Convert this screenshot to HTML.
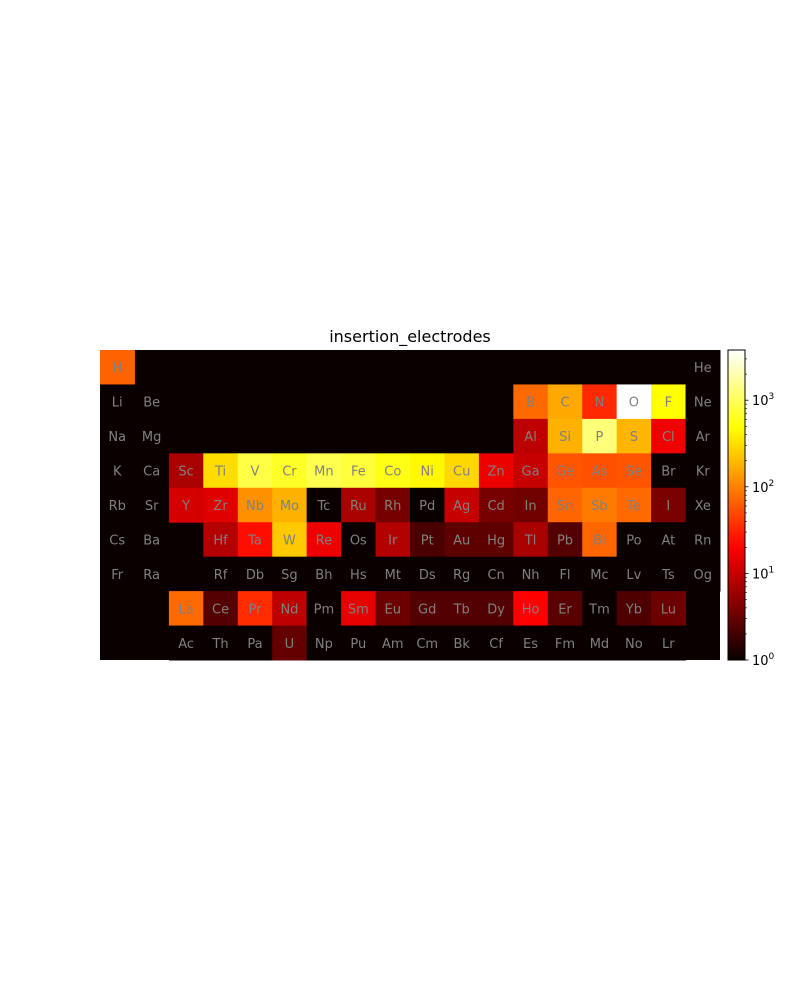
<!DOCTYPE html>
<html><head><meta charset="utf-8"><style>
html,body{margin:0;padding:0;background:#fff;}
svg{display:block;font-family:"DejaVu Sans","Liberation Sans",sans-serif;}
</style></head><body>
<svg id="chart" width="800" height="1000" viewBox="0 0 800 1000" xmlns="http://www.w3.org/2000/svg">
<defs><linearGradient id="hotgrad" x1="0" y1="1" x2="0" y2="0"></linearGradient></defs>
<text x="410" y="342" text-anchor="middle" font-size="16" fill="#000">insertion_electrodes</text>
<g id="cells"></g>
<g id="cbar"></g>
</svg>
<script>
const symbols = ["H","He","Li","Be","B","C","N","O","F","Ne","Na","Mg","Al","Si","P","S","Cl","Ar","K","Ca","Sc","Ti","V","Cr","Mn","Fe","Co","Ni","Cu","Zn","Ga","Ge","As","Se","Br","Kr","Rb","Sr","Y","Zr","Nb","Mo","Tc","Ru","Rh","Pd","Ag","Cd","In","Sn","Sb","Te","I","Xe","Cs","Ba","Hf","Ta","W","Re","Os","Ir","Pt","Au","Hg","Tl","Pb","Bi","Po","At","Rn","Fr","Ra","Rf","Db","Sg","Bh","Hs","Mt","Ds","Rg","Cn","Nh","Fl","Mc","Lv","Ts","Og","La","Ce","Pr","Nd","Pm","Sm","Eu","Gd","Tb","Dy","Ho","Er","Tm","Yb","Lu","Ac","Th","Pa","U","Np","Pu","Am","Cm","Bk","Cf","Es","Fm","Md","No","Lr"];
const counts = [68,0,0,0,75,160,33,3800,470,0,0,0,9,180,1250,190,17,0,0,0,7,310,830,650,900,760,560,430,290,16,10,57,55,57,0,0,0,0,12,14,120,180,0,7,3.7,0,10,3.8,3.5,70,93,75,4,0,0,0,8,24,240,16,0,8,2.2,2.8,2.8,7,2.5,70,0,0,0,0,0,0,0,0,0,0,0,0,0,0,0,0,0,0,0,0,75,2.5,35,9,0,15,3.3,2.4,2.4,2.4,20,2.7,0,2.3,3.3,0,0,0,3,0,0,0,0,0,0,0,0,0,0,0];
const cbTicks = [0,1,2,3];
const vmin = 1, vmax = 3800;

function gridPos(k){
  const z=k+1;
  if(k<54){
    if(z===1) return [0,0]; if(z===2) return [17,0];
    if(z<=4) return [z-3,1]; if(z<=10) return [z+7,1];
    if(z<=12) return [z-11,2]; if(z<=18) return [z-1,2];
    if(z<=36) return [z-19,3]; return [z-37,4];
  }
  if(k<56) return [k-54,5];
  if(k<71) return [k-56+3,5];
  if(k<73) return [k-71,6];
  if(k<88) return [k-73+3,6];
  if(k<103) return [k-88+2,7];
  return [k-103+2,8];
}
function hot(t){
  t=Math.max(0,Math.min(1,t));
  const r=t<0.365079?0.0416+t/0.365079*(1-0.0416):1;
  const g=t<0.365079?0:(t<0.746032?(t-0.365079)/(0.746032-0.365079):1);
  const b=t<0.746032?0:(t-0.746032)/(1-0.746032);
  return `rgb(${Math.round(r*255)},${Math.round(g*255)},${Math.round(b*255)})`;
}
const X0=100,Y0=350,CW=620/18,CH=310/9;
const lv=v=>v<=vmin?0:Math.log10(v/vmin)/Math.log10(vmax/vmin);
const NS="http://www.w3.org/2000/svg";
const cells=document.getElementById('cells');
const bg=document.createElementNS(NS,'rect');
bg.setAttribute('x',X0);bg.setAttribute('y',Y0);bg.setAttribute('width',620);bg.setAttribute('height',310);bg.setAttribute('fill',hot(0));


cells.appendChild(bg);
symbols.forEach((s,k)=>{
  const p=gridPos(k); if(!p) return;
  const g=document.createElementNS(NS,'g');
  
  
  const r=document.createElementNS(NS,'rect');
  r.setAttribute('x',X0+p[0]*CW);r.setAttribute('y',Y0+p[1]*CH);
  r.setAttribute('width',CW+0.5);r.setAttribute('height',CH+0.5);
  r.setAttribute('fill',hot(lv(counts[k])));
  g.appendChild(r);
  const t=document.createElementNS(NS,'text');
  t.setAttribute('x',X0+(p[0]+0.5)*CW);t.setAttribute('y',Y0+(p[1]+0.5)*CH+5);
  t.setAttribute('text-anchor','middle');t.setAttribute('font-size','13');t.setAttribute('fill','#808080');
  t.textContent=s;
  g.appendChild(t);
  cells.appendChild(g);
});
const grad=document.getElementById('hotgrad');
for(let i=0;i<=20;i++){const st=document.createElementNS(NS,'stop');st.setAttribute('offset',i/20);st.setAttribute('stop-color',hot(i/20));grad.appendChild(st);}
const cb=document.getElementById('cbar');
const CX=728,CWB=17,CY0=350,CY1=660;
const yv=v=>CY1-lv(v)*(CY1-CY0);
const cr=document.createElementNS(NS,'rect');
cr.setAttribute('x',CX);cr.setAttribute('y',CY0);cr.setAttribute('width',CWB);cr.setAttribute('height',CY1-CY0);
cr.setAttribute('fill','url(#hotgrad)');cr.setAttribute('stroke','#000');cr.setAttribute('stroke-width','1');


cb.appendChild(cr);
cbTicks.forEach(e=>{
  for(let m=1;m<10;m++){
    const v=Math.pow(10,e)*m; if(v>vmax) break;
    const y=yv(v);
    const l=document.createElementNS(NS,'line');
    l.setAttribute('x1',CX+CWB);l.setAttribute('x2',CX+CWB+(m===1?3.5:2));
    l.setAttribute('y1',y);l.setAttribute('y2',y);l.setAttribute('stroke','#000');l.setAttribute('stroke-width',m===1?0.8:0.6);
    cb.appendChild(l);
  }
  const t=document.createElementNS(NS,'text');
  t.setAttribute('x',CX+CWB+7);t.setAttribute('y',yv(Math.pow(10,e))+5);t.setAttribute('font-size','13');
  
  
  t.innerHTML='10<tspan dy="-6" font-size="9">'+e+'</tspan>';
  cb.appendChild(t);
});
</script>
</body></html>
